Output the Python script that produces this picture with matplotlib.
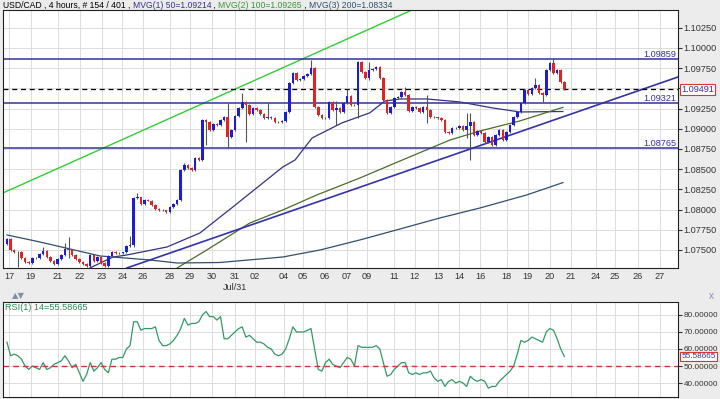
import numpy as np
import matplotlib
matplotlib.use('Agg')
import matplotlib.pyplot as plt
import matplotlib.transforms as mtransforms

plt.rcParams['font.family'] = ['Liberation Sans', 'DejaVu Sans']

# 4h candles, close prices
first_open = 1.07574
closes = [1.07636, 1.07500, 1.07475, 1.07475, 1.07401, 1.07352, 1.07339, 1.07401, 1.07401, 1.07450,
          1.07488, 1.07413, 1.07364, 1.07327, 1.07389, 1.07438, 1.07512, 1.07500, 1.07438, 1.07389,
          1.07352, 1.07327, 1.07302, 1.07438, 1.07364, 1.07413, 1.07339, 1.07302, 1.07426, 1.07475,
          1.07463, 1.07463, 1.07470, 1.07550, 1.07562, 1.08144, 1.08150, 1.08069, 1.08119, 1.08110,
          1.08057, 1.08007, 1.07995, 1.07990, 1.07970, 1.08032, 1.08069, 1.08119, 1.08490, 1.08552,
          1.08515, 1.08490, 1.08639, 1.08614, 1.09109, 1.09084, 1.08985, 1.09059, 1.09047, 1.09109,
          1.09146, 1.08899, 1.08985, 1.09159, 1.09257, 1.09332, 1.09295, 1.09183, 1.09257, 1.09233,
          1.09183, 1.09134, 1.09146, 1.09134, 1.09084, 1.09080, 1.09097, 1.09208, 1.09567, 1.09691,
          1.09604, 1.09616, 1.09653, 1.09678, 1.09752, 1.09270, 1.09171, 1.09134, 1.09130, 1.09332,
          1.09233, 1.09257, 1.09208, 1.09319, 1.09406, 1.09295, 1.09290, 1.09827, 1.09703, 1.09629,
          1.09728, 1.09740, 1.09765, 1.09629, 1.09356, 1.09196, 1.09270, 1.09381, 1.09394, 1.09455,
          1.09418, 1.09220, 1.09270, 1.09257, 1.09208, 1.09270, 1.09233, 1.09146, 1.09140, 1.09134,
          1.09109, 1.08960, 1.08948, 1.09010, 1.09005, 1.09035, 1.08985, 1.09035, 1.09084, 1.08923,
          1.08973, 1.08948, 1.08837, 1.08899, 1.08800, 1.08923, 1.08985, 1.08861, 1.08960, 1.09047,
          1.09146, 1.09208, 1.09319, 1.09480, 1.09431, 1.09505, 1.09542, 1.09443, 1.09418, 1.09728,
          1.09814, 1.09691, 1.09728, 1.09579, 1.09491]

# longer wicks that stand out
wick_high = {10: 1.07537, 16: 1.07587, 17: 1.07661, 34: 1.07673, 36: 1.08205, 49: 1.08580,
             61: 1.09319, 65: 1.09443, 66: 1.09332, 72: 1.09332, 84: 1.09851, 91: 1.09344,
             94: 1.09493, 100: 1.09827, 110: 1.09517, 116: 1.09418, 127: 1.09196, 128: 1.09196,
             146: 1.09629, 151: 1.09859}
wick_low = {3: 1.07290, 17: 1.07401, 35: 1.07537, 55: 1.08800, 61: 1.08762, 66: 1.08837,
            91: 1.09047, 97: 1.09134, 100: 1.09604, 116: 1.09072, 127: 1.08886, 128: 1.08614,
            148: 1.09332}

ma50_x = [22.9, 29.3, 33.1, 44.2, 53.3, 62.4, 76.2, 79.6, 84.3, 92.5, 100.2, 104.4, 108.6, 116.0, 125.1, 134.3, 141.7, 153.6]
ma50_y = [1.07277, 1.07413, 1.07438, 1.07537, 1.07710, 1.08032, 1.08527, 1.08614, 1.08886, 1.09072, 1.09196,
          1.09344, 1.09369, 1.09369, 1.09332, 1.09257, 1.09208, 1.09214]
ma100_x = [47.0, 55.2, 67.1, 76.2, 85.6, 97.5, 109.9, 122.4, 130.7, 141.7, 153.6]
ma100_y = [1.07277, 1.07500, 1.07834, 1.07995, 1.08181, 1.08391, 1.08626, 1.08861, 1.08973, 1.09097, 1.09265]
ma200_x = [0, 9.1, 25.7, 39.5, 47.0, 58.8, 76.2, 86.5, 97.5, 108.6, 119.6, 130.7, 143.6, 153.6]
ma200_y = [1.07686, 1.07599, 1.07426, 1.07376, 1.07339, 1.07345, 1.07413, 1.07500, 1.07624, 1.07760,
           1.07896, 1.08020, 1.08181, 1.08334]

trend_x = [33.1, 185.4]
trend_y = [1.07277, 1.09641]
channel_x = [-1.1, 111.9]
channel_y = [1.08206, 1.10470]

levels = [1.09859, 1.09321, 1.08765]
last_price = 1.09491

rsi = [64, 56, 57, 56, 54, 50, 48, 50, 49, 48, 52, 48, 49, 51, 52, 53, 56, 53, 49, 51,
       46, 41, 45, 52, 47, 49, 52, 48, 46, 54, 54, 55, 55, 60, 62, 76, 76, 71, 72, 72,
       72, 73, 65, 62, 62, 63, 65, 68, 72, 78, 74, 75, 75, 76, 80, 82, 79, 79, 77, 79,
       66, 66, 68, 70, 72, 73, 67, 68, 66, 64, 64, 63, 61, 60, 57, 56, 57, 60, 66, 73,
       70, 70, 70, 71, 72, 60, 48, 47, 52, 54, 51, 50, 49, 52, 55, 54, 50, 62, 61, 61,
       61, 61, 62, 60, 52, 44, 45, 48, 50, 52, 52, 46, 45, 46, 45, 46, 46, 47, 43, 41,
       42, 38, 41, 42, 40, 41, 40, 38, 44, 42, 41, 42, 41, 37, 38, 38, 41, 43, 45, 47,
       50, 57, 65, 64, 65, 67, 66, 65, 64, 70, 72, 71, 66, 60, 55.58665]

day_pos = [0.55, 6.6, 14.0, 20.2, 26.2, 31.8, 37.6, 45.0, 50.5, 56.6, 63.0, 68.5, 76.5, 81.8, 87.8,
           93.9, 99.5, 106.9, 112.7, 119.1, 124.9, 130.7, 138.1, 143.9, 149.9, 155.8, 162.7, 168.0, 174.3, 180.4]
day_labels = ['17', '19', '21', '22', '23', '24', '26', '28', '29', '30', '31\nJul/31', '02', '04', '05', '06',
              '07', '09', '11', '12', '13', '14', '16', '18', '19', '20', '21', '24', '25', '26', '27']
price_ticks = [1.075, 1.0775, 1.08, 1.0825, 1.085, 1.0875, 1.09, 1.0925, 1.095, 1.0975, 1.1, 1.1025]
rsi_ticks = [40, 50, 60, 70, 80]

navy = '#333399'
fs = 6.6
rfs = 5.9
fig = plt.figure(figsize=(7.2, 3.99), dpi=100, facecolor='#ececec')
ax = fig.add_axes([3/720, 1-268/399, 675/720, 258/399], facecolor='white')
ax2 = fig.add_axes([3/720, 1-397/399, 675/720, 95/399], facecolor='white')

c = np.array(closes)
o = np.concatenate([[first_open], c[:-1]])
x = np.arange(len(c))
hi = np.maximum(o, c) + 0.00008
lo = np.minimum(o, c) - 0.00008
for k, v in wick_high.items():
    hi[k] = max(hi[k], v)
for k, v in wick_low.items():
    lo[k] = min(lo[k], v)
cols = np.where(c >= o, '#1c1cd0', '#e02424')

ax.vlines(x, lo, hi, color='#555555', lw=0.8, zorder=3)
ax.bar(x, np.maximum(np.abs(c - o), 0.00004), bottom=np.minimum(o, c), width=0.7,
       color=cols, linewidth=0, zorder=4)

ax.plot(ma50_x, ma50_y, color='#33337f', lw=0.9, zorder=2)
ax.plot(ma100_x, ma100_y, color='#4d6b2a', lw=0.9, zorder=2)
ax.plot(ma200_x, ma200_y, color='#2f4f6f', lw=0.9, zorder=2)
ax.plot(trend_x, trend_y, color='#3333aa', lw=1.2, zorder=2)
ax.plot(channel_x, channel_y, color='#33cc33', lw=1.0, zorder=2)

tr = mtransforms.blended_transform_factory(ax.transAxes, ax.transData)
for lv in levels:
    ax.axhline(lv, color=navy, lw=1.1, zorder=2)
    ax.text(0.998, lv, '%.5f' % lv, transform=tr, ha='right', va='bottom', fontsize=fs, color=navy)
ax.axhline(last_price, color='black', lw=0.9, dashes=(4, 3), zorder=2)
ax.text(1.005, last_price, '%.5f' % last_price, transform=tr, ha='left', va='center', fontsize=fs,
        color=navy, bbox=dict(facecolor='white', edgecolor='#dd3333', pad=0.8, lw=0.8), clip_on=False,
        zorder=6)

ax.set_xlim(-1.1, 185.4)
ax.set_ylim(1.07277, 1.1047)
ax.yaxis.tick_right()
ax.set_yticks(price_ticks)
# the 1.09500 label sits under the last-price box
ax.set_yticklabels(['' if t == 1.095 else '%.5f' % t for t in price_ticks])
ax.set_xticks(day_pos)
ax.set_xticklabels(day_labels)
ax.tick_params(axis='y', length=3, pad=1, labelsize=fs, colors='#333333')
ax.tick_params(axis='x', length=0, pad=3, labelsize=fs, colors='#333333')
ax.grid(True, color='#dcdcdc', lw=0.7)
ax.set_axisbelow(True)
for s in ax.spines.values():
    s.set_color('#222222')
    s.set_linewidth(0.8)

# RSI panel
ax2.plot(x, rsi, color='#339966', lw=0.9)
ax2.axhline(50, color='#cc3333', lw=1.0, dashes=(4, 3))
tr2 = mtransforms.blended_transform_factory(ax2.transAxes, ax2.transData)
ax2.text(1.005, rsi[-1], '%.5f' % rsi[-1], transform=tr2, ha='left', va='center', fontsize=rfs,
         color=navy, bbox=dict(facecolor='white', edgecolor='#dd3333', pad=0.8, lw=0.8), clip_on=False,
         zorder=6)
ax2.text(0.003, 0.985, 'RSI(1) 14=%.5f' % rsi[-1], transform=ax2.transAxes, ha='left', va='top',
         fontsize=fs, color='#2e8b57')
ax2.set_xlim(-1.1, 185.4)
ax2.set_ylim(31.8, 87.6)
ax2.yaxis.tick_right()
ax2.set_yticks(rsi_ticks)
ax2.set_yticklabels(['%.5f' % t for t in rsi_ticks])
ax2.set_xticks(day_pos)
ax2.tick_params(axis='x', length=0, labelbottom=False)
ax2.tick_params(axis='y', length=3, pad=1, labelsize=rfs, colors='#333333')
ax2.grid(True, color='#dcdcdc', lw=0.7)
ax2.set_axisbelow(True)
for s in ax2.spines.values():
    s.set_color('#222222')
    s.set_linewidth(0.8)

# header text in pieces of different colour
hfs = 6.2
t1 = fig.text(3/720, 1-5/399, 'USD/CAD , 4 hours, # 154 / 401 , ', ha='left', va='center', fontsize=hfs)
t2 = ax.annotate('MVG(1) 50=1.09214', xy=(1, 0), xycoords=t1, va='bottom', fontsize=hfs, color='#333399',
                 annotation_clip=False)
t3 = ax.annotate(' , ', xy=(1, 0), xycoords=t2, va='bottom', fontsize=hfs, annotation_clip=False)
t4 = ax.annotate('MVG(2) 100=1.09265', xy=(1, 0), xycoords=t3, va='bottom', fontsize=hfs, color='#339933',
                 annotation_clip=False)
t5 = ax.annotate(' , ', xy=(1, 0), xycoords=t4, va='bottom', fontsize=hfs, annotation_clip=False)
ax.annotate('MVG(3) 200=1.08334', xy=(1, 0), xycoords=t5, va='bottom', fontsize=hfs, color='#2f4f6f',
            annotation_clip=False)

fig.text(12/720, 1-296/399, '\u25b2\u25bc', fontsize=6, color='#8090a8', va='center',
         family=['DejaVu Sans'])
fig.text(709/720, 1-296/399, 'x', fontsize=7, color='#8090a8', va='center')

plt.savefig('out.png', dpi=100, facecolor=fig.get_facecolor())
